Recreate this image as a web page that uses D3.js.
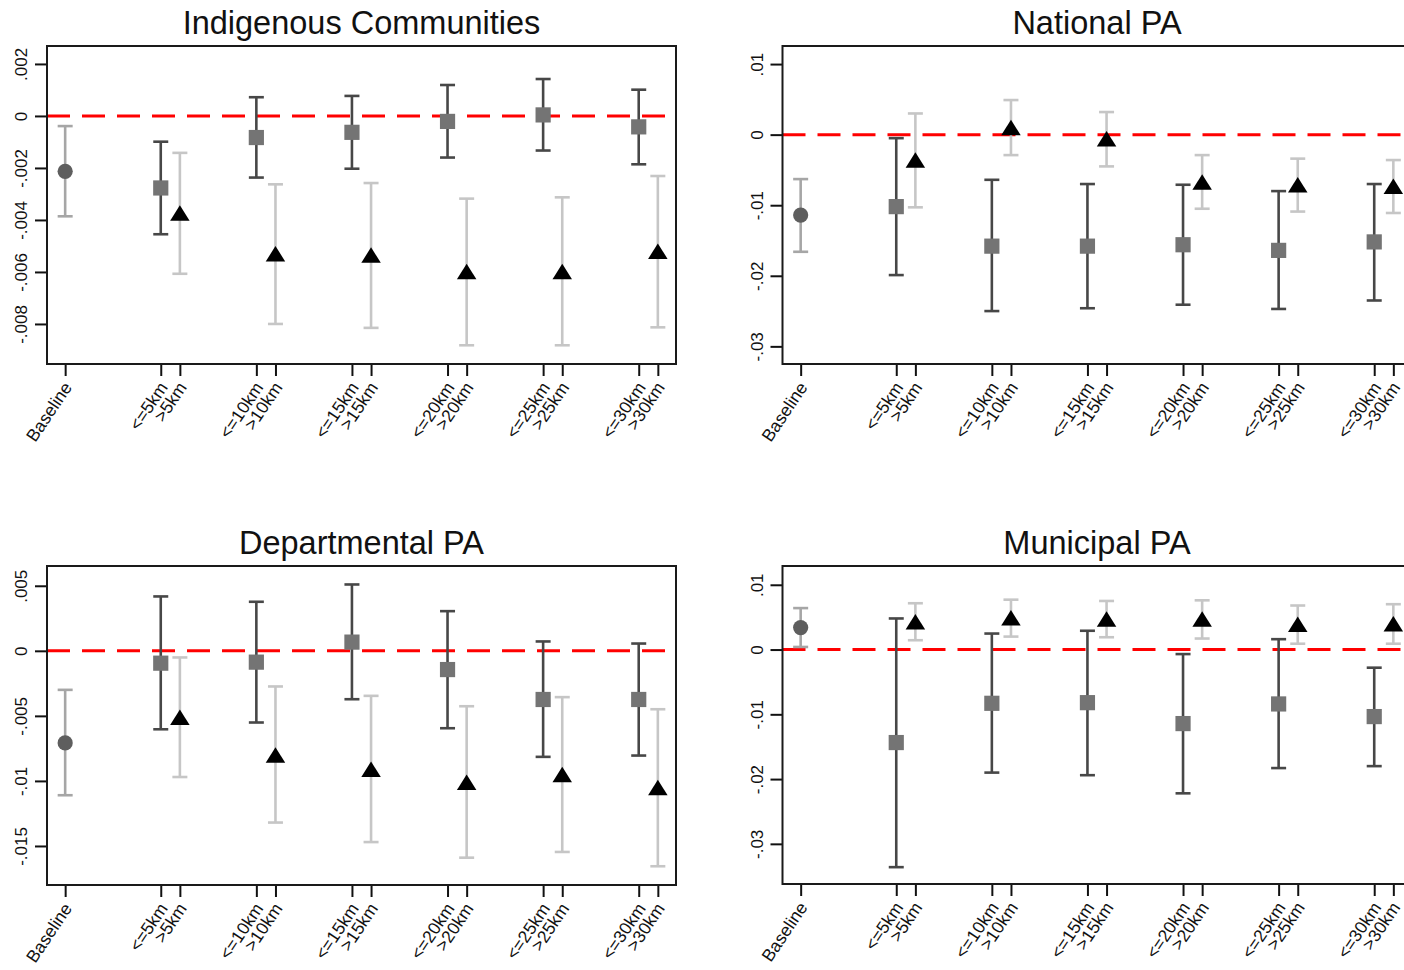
<!DOCTYPE html>
<html>
<head>
<meta charset="utf-8">
<script src="https://cdn.jsdelivr.net/npm/d3@7"></script>
<style>
  html, body { margin: 0; padding: 0; background: #fff; }
  svg { display: block; font-family: "Liberation Sans", Arial, sans-serif; }
</style>
</head>
<body>
<svg id="chart" width="1404" height="970"></svg>
<script>
// Point estimates with 95% confidence bounds, as [estimate, lower, upper]
const panelTitles = ["Indigenous Communities", "National PA", "Departmental PA", "Municipal PA"];

const distancesKm = [5, 10, 15, 20, 25, 30];
const tickLabels = ["Baseline",
  "<=5km", ">5km", "<=10km", ">10km", "<=15km", ">15km",
  "<=20km", ">20km", "<=25km", ">25km", "<=30km", ">30km"];

// Indigenous Communities
const icBaseline = [-0.00213, -0.00386, -0.00039];
const icInside = [
  [-0.00277, -0.00455, -0.00099],
  [-0.00083, -0.00237, 0.00072],
  [-0.00063, -0.00203, 0.00077],
  [-0.00021, -0.00160, 0.00119],
  [0.00004, -0.00133, 0.00142],
  [-0.00042, -0.00186, 0.00101]];
const icOutside = [
  [-0.00373, -0.00607, -0.00142],
  [-0.00530, -0.00800, -0.00263],
  [-0.00535, -0.00815, -0.00258],
  [-0.00598, -0.00882, -0.00318],
  [-0.00598, -0.00882, -0.00313],
  [-0.00520, -0.00813, -0.00231]];

// National PA
const npBaseline = [-0.0114, -0.0166, -0.0063];
const npInside = [
  [-0.0102, -0.0199, -0.0005],
  [-0.0158, -0.0250, -0.0064],
  [-0.0158, -0.0246, -0.0070],
  [-0.0156, -0.0241, -0.0071],
  [-0.0164, -0.0247, -0.0080],
  [-0.0152, -0.0235, -0.0070]];
const npOutside = [
  [-0.0036, -0.0103, 0.0030],
  [0.0010, -0.0029, 0.0049],
  [-0.0006, -0.0045, 0.0032],
  [-0.0067, -0.0105, -0.0029],
  [-0.0071, -0.0109, -0.0034],
  [-0.0073, -0.0111, -0.0036]];

// Departmental PA
const dpBaseline = [-0.00708, -0.0111, -0.0030];
const dpInside = [
  [-0.00095, -0.00603, 0.00418],
  [-0.00087, -0.00551, 0.00377],
  [0.00067, -0.00372, 0.00510],
  [-0.00144, -0.00595, 0.00305],
  [-0.00374, -0.00815, 0.00072],
  [-0.00374, -0.00805, 0.00056]];
const dpOutside = [
  [-0.00510, -0.00970, -0.00051],
  [-0.00800, -0.01320, -0.00274],
  [-0.00910, -0.01470, -0.00346],
  [-0.01010, -0.01590, -0.00426],
  [-0.00950, -0.01546, -0.00356],
  [-0.01050, -0.01656, -0.00449]];

// Municipal PA
const mpBaseline = [0.0034, 0.0004, 0.0064];
const mpInside = [
  [-0.01436, -0.0336, 0.0048],
  [-0.0083, -0.0190, 0.00247],
  [-0.0082, -0.0194, 0.0029],
  [-0.01143, -0.0222, -0.0007],
  [-0.0084, -0.0183, 0.0016],
  [-0.01035, -0.0180, -0.0028]];
const mpOutside = [
  [0.0043, 0.00144, 0.00715],
  [0.0049, 0.0020, 0.0077],
  [0.0047, 0.0019, 0.0075],
  [0.0047, 0.0017, 0.0076],
  [0.0039, 0.0009, 0.0068],
  [0.0040, 0.0009, 0.0070]];

// y-axis ranges and tick values per panel
const icYRange = [-0.00954, 0.00269];
const npYRange = [-0.0325, 0.01256];
const dpYRange = [-0.0180, 0.00652];
const mpYRange = [-0.0362, 0.0129];
const icYTicks = [0.002, 0, -0.002, -0.004, -0.006, -0.008];
const npYTicks = [0.01, 0, -0.01, -0.02, -0.03];
const dpYTicks = [0.005, 0, -0.005, -0.01, -0.015];
const mpYTicks = [0.01, 0, -0.01, -0.02, -0.03];

const panels = [
  { title: panelTitles[0], base: icBaseline, inside: icInside, outside: icOutside, yr: icYRange, yt: icYTicks },
  { title: panelTitles[1], base: npBaseline, inside: npInside, outside: npOutside, yr: npYRange, yt: npYTicks },
  { title: panelTitles[2], base: dpBaseline, inside: dpInside, outside: dpOutside, yr: dpYRange, yt: dpYTicks },
  { title: panelTitles[3], base: mpBaseline, inside: mpInside, outside: mpOutside, yr: mpYRange, yt: mpYTicks }
];

// plot-region boxes (the right column runs past the page edge)
const boxes = [
  { x: 47, y: 46, w: 629, h: 318 },
  { x: 782.5, y: 46, w: 629, h: 318 },
  { x: 47, y: 566, w: 629, h: 319 },
  { x: 782.5, y: 566, w: 629, h: 318 }
];

const OUT_SHIFT = 0.2; // ">" estimate sits just right of its "<=" partner
const tickPositions = [0].concat(...distancesKm.map((d, i) => [i + 1, i + 1 + OUT_SHIFT]));

const fmt = v => v === 0 ? "0" : String(v).replace("0.", ".");

const svg = d3.select("#chart");

const COL = {
  frame: "#1a1a1a",
  zero: "#ff0000",
  baseCI: "#a6a6a6",
  baseDot: "#5e5e5e",
  inCI: "#474747",
  inSq: "#747474",
  outCI: "#c6c6c6",
  outTri: "#000000"
};

panels.forEach((p, k) => {
  const b = boxes[k];
  const g = svg.append("g").attr("transform", `translate(${b.x},${b.y})`);

  const x = d3.scaleLinear().domain([-0.19, 6.39]).range([0, b.w]);
  const y = d3.scaleLinear().domain(p.yr).range([b.h, 0]);

  // title
  g.append("text")
    .attr("x", b.w / 2).attr("y", -12)
    .attr("text-anchor", "middle")
    .attr("font-size", 32.5)
    .attr("fill", "#111")
    .text(p.title);

  // zero reference line
  g.append("line")
    .attr("x1", 0).attr("x2", b.w)
    .attr("y1", y(0)).attr("y2", y(0))
    .attr("stroke", COL.zero).attr("stroke-width", 3)
    .attr("stroke-dasharray", "23 12");

  // error bars
  const ciData = [{ xv: 0, v: p.base, c: COL.baseCI }]
    .concat(p.inside.map((v, i) => ({ xv: i + 1, v, c: COL.inCI })))
    .concat(p.outside.map((v, i) => ({ xv: i + 1 + OUT_SHIFT, v, c: COL.outCI })));

  const ci = g.append("g").selectAll("g").data(ciData).join("g")
    .attr("stroke", d => d.c).attr("stroke-width", 2.6).attr("fill", "none");
  ci.append("line")
    .attr("x1", d => x(d.xv)).attr("x2", d => x(d.xv))
    .attr("y1", d => y(d.v[1])).attr("y2", d => y(d.v[2]));
  ci.append("line")
    .attr("x1", d => x(d.xv) - 7.5).attr("x2", d => x(d.xv) + 7.5)
    .attr("y1", d => y(d.v[1])).attr("y2", d => y(d.v[1]));
  ci.append("line")
    .attr("x1", d => x(d.xv) - 7.5).attr("x2", d => x(d.xv) + 7.5)
    .attr("y1", d => y(d.v[2])).attr("y2", d => y(d.v[2]));

  // baseline estimate
  g.append("circle")
    .attr("cx", x(0)).attr("cy", y(p.base[0])).attr("r", 7.6)
    .attr("fill", COL.baseDot);

  // within-distance estimates
  g.append("g").selectAll("rect").data(p.inside).join("rect")
    .attr("x", (d, i) => x(i + 1) - 7.6).attr("y", d => y(d[0]) - 7.6)
    .attr("width", 15.2).attr("height", 15.2)
    .attr("fill", COL.inSq);

  // beyond-distance estimates
  const tw = 19.5, th = 15.5;
  g.append("g").selectAll("path").data(p.outside).join("path")
    .attr("transform", (d, i) => `translate(${x(i + 1 + OUT_SHIFT)},${y(d[0])})`)
    .attr("d", `M0,${-th / 2}L${tw / 2},${th / 2}L${-tw / 2},${th / 2}Z`)
    .attr("fill", COL.outTri);

  // y axis
  const ya = g.append("g")
    .call(d3.axisLeft(y).tickValues(p.yt).tickSize(12).tickFormat(fmt));
  ya.select(".domain").remove();
  ya.selectAll("line").attr("stroke", "#111").attr("stroke-width", 2);
  ya.selectAll("text")
    .attr("transform", "rotate(-90)")
    .attr("x", 0).attr("y", -20).attr("dy", 0)
    .attr("text-anchor", "middle")
    .attr("font-size", 17).attr("fill", "#111")
    .attr("font-family", "Liberation Sans, Arial, sans-serif");

  // x axis
  const xa = g.append("g").attr("transform", `translate(0,${b.h})`)
    .call(d3.axisBottom(x).tickValues(tickPositions).tickSize(12)
      .tickFormat((d, i) => tickLabels[i]));
  xa.select(".domain").remove();
  xa.selectAll("line").attr("stroke", "#111").attr("stroke-width", 2);
  xa.selectAll("text")
    .attr("x", 0).attr("y", 0).attr("dy", "0.35em")
    .attr("transform", "translate(2,20) rotate(-56)")
    .attr("text-anchor", "end")
    .attr("font-size", 17.5).attr("fill", "#111")
    .attr("font-family", "Liberation Sans, Arial, sans-serif");

  // plot frame
  g.append("rect")
    .attr("x", 0).attr("y", 0).attr("width", b.w).attr("height", b.h)
    .attr("fill", "none").attr("stroke", COL.frame).attr("stroke-width", 2);
});
</script>
</body>
</html>
